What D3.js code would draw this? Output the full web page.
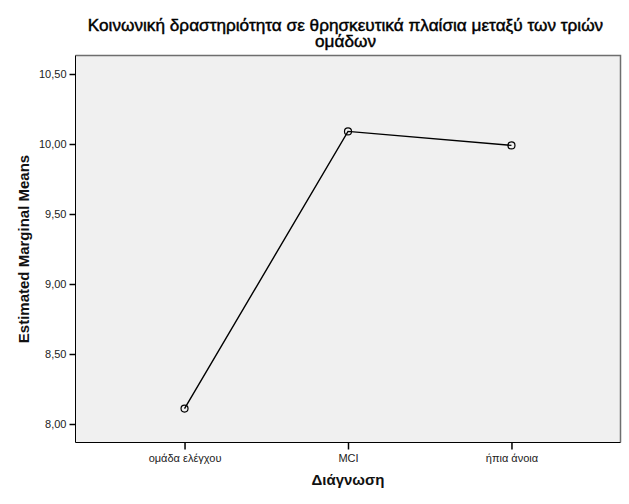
<!DOCTYPE html>
<html>
<head>
<meta charset="utf-8">
<script src="https://cdn.jsdelivr.net/npm/d3@7"></script>
<style>
  html, body { margin: 0; padding: 0; background: #fff; }
  svg { display: block; font-family: "Liberation Sans", Arial, sans-serif; }
</style>
</head>
<body>
<svg id="chart" width="629" height="504"></svg>
<script>
const categories = ["ομάδα ελέγχου", "MCI", "ήπια άνοια"];
const means = [8.11, 10.09, 9.99];
const yTicks = [8.0, 8.5, 9.0, 9.5, 10.0, 10.5];
const titleLines = ["Κοινωνική δραστηριότητα σε θρησκευτικά πλαίσια μεταξύ των τριών", "ομάδων"];
const xTitle = "Διάγνωση";
const yTitle = "Estimated Marginal Means";

const data = categories.map((c, i) => ({ c, v: means[i] }));

const svg = d3.select("#chart");
const pLeft = 75.5, pRight = 620.5, pTop = 55.5, pBottom = 442.5;

const x = d3.scalePoint().domain(categories).range([pLeft, pRight]).padding(0.667);
const y = d3.scaleLinear().domain([8.0, 10.5]).range([424, 74]);

// plot background
svg.append("rect")
  .attr("x", pLeft).attr("y", pTop)
  .attr("width", pRight - pLeft).attr("height", pBottom - pTop)
  .attr("fill", "#f0f0f0");
// top & right borders (gray)
svg.append("path")
  .attr("d", `M${pLeft},${pTop}H${pRight}V${pBottom}`)
  .attr("fill", "none").attr("stroke", "#6e6e6e").attr("stroke-width", 1.5);

const fmt = d => d3.format(".2f")(d).replace(".", ",");

// y axis
const yAxis = svg.append("g")
  .attr("transform", `translate(${pLeft},0)`)
  .call(d3.axisLeft(y).tickValues(yTicks).tickFormat(fmt).tickSize(6).tickPadding(3).tickSizeOuter(0));
yAxis.select(".domain").attr("d", `M0,${pTop}V${pBottom}`).attr("stroke", "#000");
yAxis.selectAll(".tick line").attr("stroke", "#000").attr("stroke-width", 1.5);
yAxis.selectAll(".tick text").attr("font-size", 11).attr("fill", "#222")
  .attr("font-family", "Liberation Sans, Arial, sans-serif");

// x axis
const xAxis = svg.append("g")
  .attr("transform", `translate(0,${pBottom})`)
  .call(d3.axisBottom(x).tickSize(7).tickPadding(5).tickSizeOuter(0));
xAxis.select(".domain").attr("d", `M${pLeft},0H${pRight}`).attr("stroke", "#000");
xAxis.selectAll(".tick line").attr("stroke", "#000").attr("stroke-width", 1.5);
xAxis.selectAll(".tick text").attr("font-size", 11).attr("fill", "#222")
  .attr("font-family", "Liberation Sans, Arial, sans-serif");

// line
svg.append("path")
  .datum(data)
  .attr("fill", "none").attr("stroke", "#000").attr("stroke-width", 1.4)
  .attr("d", d3.line().x(d => x(d.c)).y(d => y(d.v)));

// markers
svg.selectAll("circle.pt")
  .data(data).join("circle")
  .attr("class", "pt")
  .attr("cx", d => x(d.c)).attr("cy", d => y(d.v)).attr("r", 3.5)
  .attr("fill", "none").attr("stroke", "#000").attr("stroke-width", 1.2);

// title
const cx = (pLeft + pRight) / 2;
svg.append("g").selectAll("text")
  .data(titleLines).join("text")
  .attr("x", cx - 2.5).attr("y", (d, i) => 31 + i * 16)
  .attr("text-anchor", "middle")
  .attr("font-size", 17.2).attr("font-weight", "normal")
  .attr("fill", "#000").attr("stroke", "#000").attr("stroke-width", 0.45)
  .text(d => d);

// x title
svg.append("text")
  .attr("x", cx).attr("y", 485)
  .attr("text-anchor", "middle")
  .attr("font-size", 15).attr("font-weight", "bold").attr("fill", "#111")
  .text(xTitle);

// y title
svg.append("text")
  .attr("transform", `translate(29,${(pTop + pBottom) / 2}) rotate(-90)`)
  .attr("text-anchor", "middle")
  .attr("font-size", 15).attr("font-weight", "bold").attr("fill", "#111")
  .text(yTitle);
</script>
</body>
</html>
